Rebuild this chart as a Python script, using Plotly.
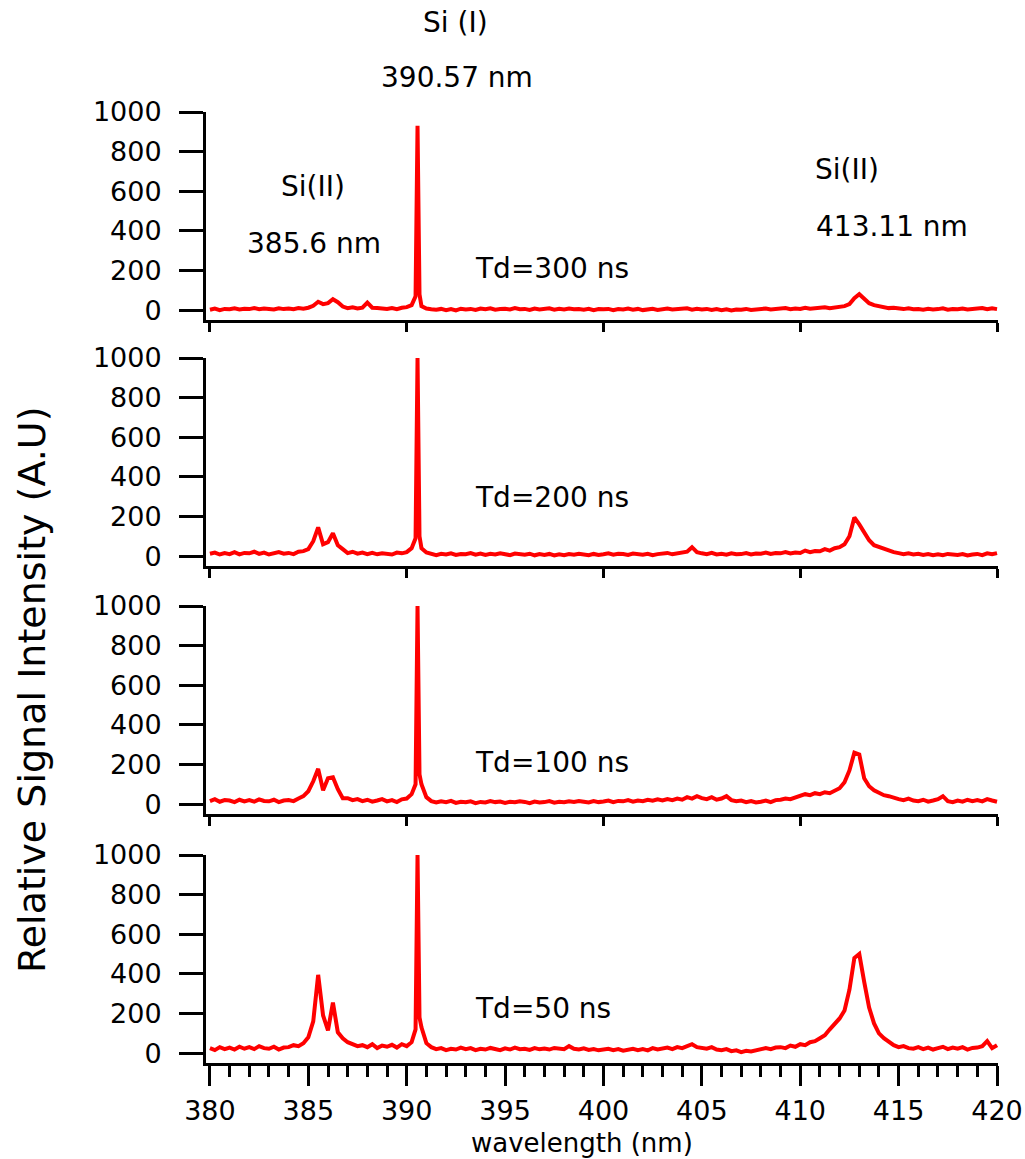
import plotly.graph_objects as go

# wavelength grid (nm): 0.25 nm steps, with a finer sampling around the Si I line
wavelength = ([round(380 + 0.25 * i, 2) for i in range(42)]
              + [390.45, 390.55, 390.65]
              + [round(390.75 + 0.25 * i, 2) for i in range(118)])

td300 = [
    2, 8, 0, 6,   4, 9, 3, 7,   5, 10, 4, 8,   6, 3, 9, 5,   8, 4, 10, 7,
    12, 22, 42, 30,   35, 55, 40, 18,   10, 14, 8, 12,   38, 12, 10, 7,   6, 10, 5, 12,
    15, 25, 70, 930, 80, 20,   8, 4, 2, 6,   0, 5, -2, 7,   3, 6, 1, 8,   4, 9, 2, 5,
    7, 3, 10, 4,   6, 1, 8, 3,   5, 9, 2, 7,   3, 8, 4, 6,   2, 7, 0, 5,
    4, 6, -1, 5,   3, 8, 2, 6,   0, 4, 7, 1,   5, 8, 3, 6,   4, 9, 2, 7,
    3, 6, 1, 5,   0, 4, -2, 3,   2, 6, 1, 5,   4, 8, 3, 6,   5, 10, 4, 8,
    6, 12, 7, 10,   8, 14, 9, 13,   15, 20, 30, 60,   80, 55, 35, 25,   20, 15, 10, 12,
    8, 5, 9, 4,   6, 2, 7, 3,   5, 9, 2, 6,   4, 8, 3, 7,   6, 10, 4, 9,
    5,
]

td200 = [
    12, 18, 8, 15,   10, 20, 9, 16,   14, 22, 11, 18,   8, 15, 20, 12,   16, 10, 22, 25,
    35, 75, 145, 60,   70, 115, 55, 35,   15, 22, 12, 18,   10, 16, 9, 14,   12, 8, 18, 14,
    20, 40, 90, 1000, 100, 40,   18, 10, 5, 12,   8, 14, 6, 11,   9, 15, 7, 13,   6, 12, 8, 14,
    10, 5, 13, 8,   7, 12, 4, 10,   6, 11, 3, 9,   5, 10, 7, 12,   8, 4, 11, 6,
    9, 14, 7, 12,   10, 6, 13, 9,   7, 12, 5, 10,   11, 16, 9, 14,   15, 22, 45, 20,
    14, 10, 16, 8,   12, 7, 14, 9,   10, 15, 8, 13,   12, 18, 11, 16,   14, 20, 13, 18,
    16, 28, 20, 26,   24, 35, 28, 40,   45, 60, 100, 195,   160, 120, 80, 55,   45, 35, 25, 20,
    15, 10, 14, 8,   12, 6, 10, 5,   9, 4, 11, 7,   6, 10, 3, 8,   11, 5, 14, 9,
    15,
]

td100 = [
    15, 25, 12, 20,   18, 10, 22, 14,   20, 12, 24, 16,   14, 22, 10, 18,   20, 15, 28, 40,
    65, 115, 178, 70,   130, 135, 75, 30,   30, 20, 25, 15,   22, 12, 18, 25,   14, 20, 10, 24,
    28, 50, 100, 1000, 150, 100,   35, 15, 8, 14,   10, 16, 6, 12,   9, 14, 5, 11,   8, 15, 10, 13,
    6, 12, 9, 14,   11, 5, 13, 8,   10, 15, 7, 12,   9, 14, 11, 16,   12, 8, 15, 10,
    13, 18, 10, 16,   14, 20, 12, 18,   15, 22, 17, 24,   18, 25, 20, 28,   22, 35, 28, 40,
    30, 25, 35, 22,   28, 40, 20, 15,   18, 10, 15, 8,   12, 18, 10, 20,   22, 28, 25, 35,
    40, 50, 45, 55,   50, 60, 55, 70,   80, 110, 170, 260,   250, 130, 90, 70,   55, 45, 40, 30,
    25, 20, 28, 18,   15, 22, 12, 18,   25, 40, 15, 10,   18, 12, 22, 15,   20, 14, 25, 18,
    12,
]

td50 = [
    25, 15, 30, 20,   28, 18, 32, 22,   30, 20, 35, 25,   22, 32, 18, 28,   30, 40, 35, 50,
    80, 160, 395, 190,   115, 255, 105, 75,   55, 45, 35, 40,   30, 45, 25, 38,   32, 42, 28, 45,
    35, 55, 120, 1000, 180, 130,   50, 30, 20, 25,   15, 22, 18, 28,   20, 25, 15, 22,   18, 26, 20, 15,
    24, 18, 28, 20,   22, 16, 25, 19,   23, 18, 26, 21,   20, 35, 22, 18,   24, 16, 20, 14,
    18, 22, 15, 20,   12, 18, 22, 15,   20, 14, 25, 18,   22, 28, 20, 30,   25, 35, 45, 30,
    28, 22, 30, 18,   15, 20, 10, 14,   5, 12, 8, 15,   18, 25, 20, 28,   30, 25, 38, 32,
    45, 40, 55, 60,   75, 90, 120, 150,   175, 215, 320, 480,   500, 360, 230, 150,   100, 75, 55, 40,
    30, 35, 25, 22,   30, 20, 28, 18,   25, 32, 20, 28,   22, 30, 18, 26,   28, 35, 60, 25,
    40,
]

series = [td300, td200, td100, td50]
delay_labels = ["Td=300 ns", "Td=200 ns", "Td=100 ns", "Td=50 ns"]
y_ticks = [0, 200, 400, 600, 800, 1000]
x_major_ticks = [380, 385, 390, 395, 400, 405, 410, 415, 420]
x_panel_ticks = [380, 390, 400, 410, 420]

W, H = 1025, 1159
FONT = "DejaVu Sans"
RED = "#ff0000"
TICK_SIZE = 27
TEXT_SIZE = 28

# panel pixel boxes (top, bottom)
panel_px = [(112, 320), (358, 566), (606, 814), (855, 1063)]
x_px = (206, 998)

fig = go.Figure()
layout = dict(
    width=W, height=H,
    margin=dict(l=0, r=0, t=0, b=0, pad=0, autoexpand=False),
    paper_bgcolor="white", plot_bgcolor="white",
    showlegend=False,
    font=dict(family=FONT, size=TICK_SIZE, color="black"),
)

for k, (ys, (top, bot)) in enumerate(zip(series, panel_px)):
    n = k + 1
    xa = "x" if n == 1 else f"x{n}"
    ya = "y" if n == 1 else f"y{n}"
    fig.add_trace(go.Scatter(x=wavelength, y=ys, mode="lines",
                             line=dict(color=RED, width=4),
                             xaxis=xa, yaxis=ya))
    last = (k == 3)
    xkey = "xaxis" if n == 1 else f"xaxis{n}"
    ykey = "yaxis" if n == 1 else f"yaxis{n}"
    xax = dict(
        domain=[x_px[0] / W, x_px[1] / W],
        range=[379.8, 420.05],
        anchor=ya, automargin=False,
        showline=True, linecolor="black", linewidth=3,
        showgrid=False, zeroline=False,
        ticks="outside", tickwidth=3, tickcolor="black",
        ticklen=20 if last else 9,
        tickmode="array",
        tickvals=x_major_ticks if last else x_panel_ticks,
        showticklabels=last,
        tickfont=dict(family=FONT, size=TICK_SIZE),
        ticklabelstandoff=2,
    )
    if last:
        xax["minor"] = dict(ticks="outside", dtick=1, tick0=380, ticklen=11,
                            tickwidth=3, tickcolor="black", showgrid=False)
    yax = dict(
        domain=[1 - bot / H, 1 - top / H],
        range=[-50, 1000],
        anchor=xa, automargin=False,
        showline=True, linecolor="black", linewidth=3,
        showgrid=False, zeroline=False,
        ticks="outside", tickwidth=3, tickcolor="black", ticklen=24,
        tickmode="array", tickvals=y_ticks,
        tickfont=dict(family=FONT, size=TICK_SIZE),
        ticklabelstandoff=12,
    )
    layout[xkey] = xax
    layout[ykey] = yax

fig.update_layout(**layout)

def add_text(txt, px, py, xanchor="center", size=TEXT_SIZE, angle=0):
    fig.add_annotation(text=txt, x=px / W, y=1 - py / H, xref="paper", yref="paper",
                       xanchor=xanchor, yanchor="middle", showarrow=False,
                       textangle=angle, font=dict(family=FONT, size=size, color="black"))

add_text("Si (I)", 455, 22)
add_text("390.57 nm", 457, 77)
add_text("Si(II)", 313, 187)
add_text("385.6 nm", 314, 243)
add_text("Si(II)", 847, 170)
add_text("413.11 nm", 892, 226)
for lbl, py in zip(delay_labels, [268, 497, 762, 1008]):
    add_text(lbl, 473, py, xanchor="left")
add_text("wavelength (nm)", 582, 1143, size=26)
add_text("Relative Signal Intensity (A.U)", 32, 690, size=38, angle=-90)

fig.write_html("out.html")
